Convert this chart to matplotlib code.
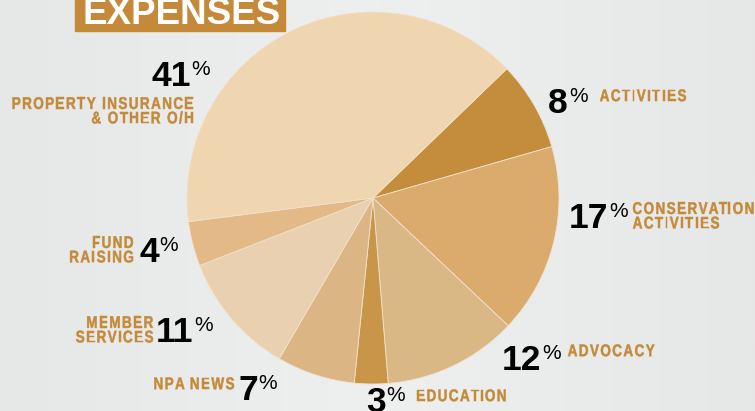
#!/usr/bin/env python3
"""Uitgavenverdeling als taartdiagram (EXPENSES)."""

import matplotlib
matplotlib.use("Agg")
import matplotlib.pyplot as plt
import numpy as np
from matplotlib.font_manager import FontProperties
from matplotlib.patches import PathPatch, Rectangle
from matplotlib.textpath import TextPath, text_to_path
from matplotlib.transforms import Affine2D

W, H = 755, 411

# data, in pie order (clockwise from the top-right slice)
categories = [
    "ACTIVITIES",
    "CONSERVATION\nACTIVITIES",
    "ADVOCACY",
    "EDUCATION",
    "NPA NEWS",
    "MEMBER\nSERVICES",
    "FUND\nRAISING",
    "PROPERTY INSURANCE\n& OTHER O/H",
]
values = [8, 17, 12, 3, 7, 11, 4, 41]
colors = ["#C48D3C", "#DBAA6D", "#D9B886", "#C99649",
          "#DCB584", "#E8D0B0", "#E3B987", "#EFD5B0"]

GOLD = "#C48A3A"
BOLD = ["Liberation Sans", "DejaVu Sans"]

# label layout in pixels: number ink-left x, number baseline y, label x, label centre y, label align
layout = [
    (549, 113, 600, 95, "left"),
    (570, 228, 633, 215, "left"),
    (503, 370, 568, 350, "left"),
    (367, 412, 417, 395, "left"),
    (239, 400, 234, 383, "right"),
    (157, 342, 153, 329, "right"),
    (140, 262, 133, 249, "right"),
    (152, 86, 193, 110, "right"),
]

CAP = 12.3        # hoogte hoofdletters label (px)
LINE = 14.5       # regelafstand label (px)
SX = 0.80         # horizontale compressie (smalle letter)
TRACK = 1.4       # extra letterafstand (px)
SIZE = CAP / 0.729
fp_label = FontProperties(family="Liberation Sans", weight="bold", size=SIZE)


def _breedte(s):
    if not s:
        return 0.0
    return text_to_path.get_text_width_height_descent(s, fp_label, ismath=False)[0]


def smal_label(ax, x, yc, tekst, ha):
    """Versmald, gespatieerd vet label als pad; yc is midden van het blok (px van boven)."""
    regels = tekst.split("\n")
    for i, regel in enumerate(regels):
        y_mid = yc + (i - (len(regels) - 1) / 2) * LINE
        paden = []
        for j, ch in enumerate(regel):
            if ch == " ":
                continue
            x_off = SX * _breedte(regel[:j]) + j * TRACK
            tp = TextPath((0, 0), ch, size=SIZE, prop=fp_label)
            paden.append(Affine2D().scale(SX, 1).translate(x_off, 0).transform_path(tp))
        x_min = min(p.get_extents().x0 for p in paden)
        x_max = max(p.get_extents().x1 for p in paden)
        dx = x - (x_min if ha == "left" else x_max)
        for p in paden:
            tr = Affine2D().translate(dx, H - y_mid - CAP / 2)
            ax.add_patch(PathPatch(tr.transform_path(p), facecolor=GOLD,
                                   edgecolor=GOLD, linewidth=0.35, clip_on=False))


fig = plt.figure(figsize=(W / 100, H / 100), dpi=100)
ax = fig.add_axes([0, 0, 1, 1])

ax.pie(values, colors=colors, startangle=44, counterclock=False,
       center=(373, H - 198), radius=186,
       wedgeprops=dict(linewidth=0.6, edgecolor="#F1E2CC"))
ax.set_xlim(0, W)
ax.set_ylim(0, H)
ax.set_aspect("auto")
ax.axis("off")

# achtergrond: licht grijs verloop
grad = np.abs(np.linspace(-1, 1, 256))[None, :]
ax.imshow(grad, extent=(0, W, 0, H), cmap=matplotlib.colors.LinearSegmentedColormap.from_list(
    "bg", ["#EEEFEF", "#E6E7E7"]), aspect="auto", zorder=-10)

# titelbalk
ax.add_patch(Rectangle((75, H - 31), 210, 40, color=GOLD, zorder=5, clip_on=False))
ax.text(182, H - 24, "EXPENSES", color="white", fontsize=26.5, fontweight="bold",
        family=BOLD, ha="center", va="baseline", zorder=6)

fig.canvas.draw()
renderer = fig.canvas.get_renderer()
for cat, val, (nx, ny, lx, ly, ha) in zip(categories, values, layout):
    num = ax.text(nx - 1, H - ny, str(val), fontsize=25.5, fontweight="bold", family=BOLD,
                  color="black", ha="left", va="baseline")
    bb = num.get_window_extent(renderer)
    ax.text(bb.x1 + 1, H - ny + 26, "%", fontsize=15, family=BOLD,
            color="black", ha="left", va="top")
    smal_label(ax, lx, ly, cat, ha)

fig.savefig("out.png", dpi=100)
